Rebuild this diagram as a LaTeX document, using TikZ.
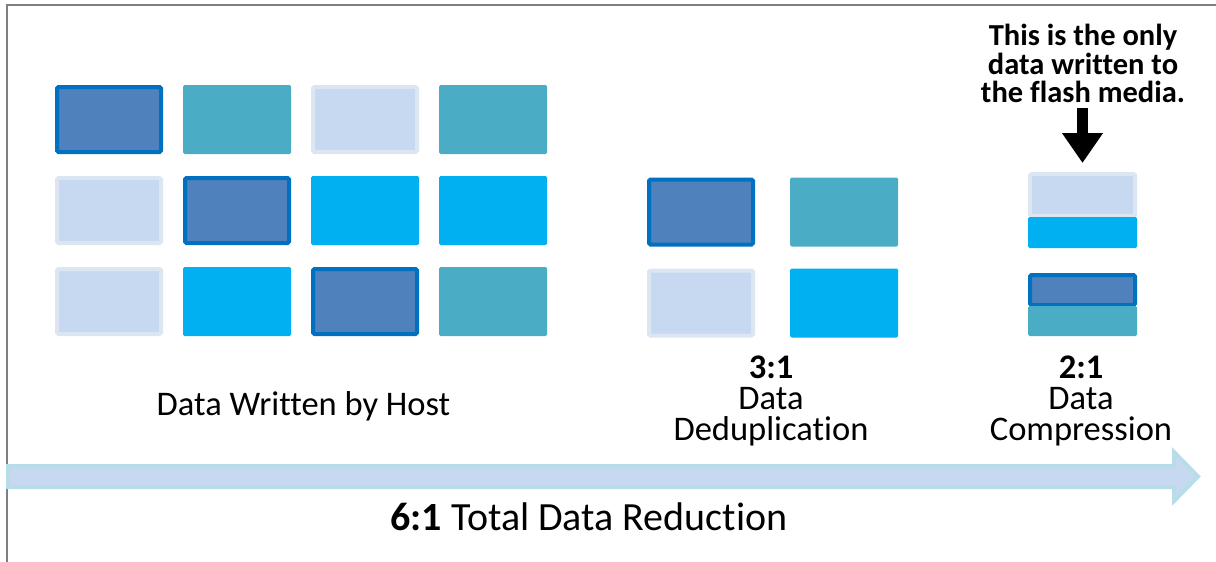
\documentclass[tikz,border=0pt]{standalone}
\usepackage{fontspec}
\setmainfont[Ligatures={NoCommon}]{Carlito}
\usetikzlibrary{arrows.meta}

\definecolor{frameGray}{HTML}{7F7F7F}
\definecolor{darkFill}{HTML}{4F81BD}
\definecolor{darkEdge}{HTML}{0070C0}
\definecolor{lightFill}{HTML}{C6D9F0}
\definecolor{lightEdge}{HTML}{DCE6F2}
\definecolor{tealFill}{HTML}{4BACC6}
\definecolor{cyanFill}{HTML}{00B0F0}
\definecolor{bandEdge}{HTML}{B7DDE8}

\tikzset{
  block/.style={rectangle, rounded corners=1.5pt, inner sep=0pt, outer sep=0pt,
    minimum width=108pt, minimum height=69pt},
  darkblock/.style={block, fill=darkFill, draw=darkEdge, line width=4pt,
    minimum width=104pt, minimum height=65pt},
  lightblock/.style={block, fill=lightFill, draw=lightEdge, line width=4pt,
    minimum width=104pt, minimum height=65pt},
  tealblock/.style={block, fill=tealFill},
  cyanblock/.style={block, fill=cyanFill},
  label/.style={inner sep=0pt, font=\fontsize{34.5}{31}\selectfont, align=center},
  note/.style={inner sep=0pt, font=\fontsize{30.5}{28.5}\selectfont\bfseries, align=center},
}

\begin{document}
\begin{tikzpicture}[x=1pt, y=-1pt]
\useasboundingbox (0,0) rectangle (1216,562);

% partial frame
\draw[frameGray, line width=2pt] (7,563) |- (1217,5);

% data written by host: 4 x 3 grid
\node[darkblock]  (h11) at (109,119.5) {};
\node[tealblock]  (h12) at (237,119.5) {};
\node[lightblock] (h13) at (365,119.5) {};
\node[tealblock]  (h14) at (493,119.5) {};
\node[lightblock] (h21) at (109,210.5) {};
\node[darkblock]  (h22) at (237,210.5) {};
\node[cyanblock]  (h23) at (365,210.5) {};
\node[cyanblock]  (h24) at (493,210.5) {};
\node[lightblock] (h31) at (109,301.5) {};
\node[cyanblock]  (h32) at (237,301.5) {};
\node[darkblock]  (h33) at (365,301.5) {};
\node[tealblock]  (h34) at (493,301.5) {};

% after deduplication
\node[darkblock]  (d11) at (701,212) {};
\node[tealblock]  (d12) at (844,212) {};
\node[lightblock] (d21) at (701,303) {};
\node[cyanblock]  (d22) at (844,303) {};

% after compression: two half-height pairs
\node[lightblock, minimum width=105pt, minimum height=42pt] (c1a) at (1082.5,195) {};
\node[cyanblock, minimum width=109pt, minimum height=31pt, anchor=north] (c1b) at (1082.5,217) {};
\node[darkblock, minimum width=105pt, minimum height=30pt] (c2a) at (1082.5,290) {};
\node[tealblock, minimum width=109pt, minimum height=30pt, anchor=north] (c2b) at (1082.5,306) {};

% labels
\node[label, anchor=base] (hostlbl) at (303.5,415) {Data Written by Host};
\node[label, anchor=north] (deduplbl) at (771,356) {\textbf{3:1}\\Data\\Deduplication};
\node[label, anchor=north] (complbl) at (1081,356) {\textbf{2:1}\\Data\\Compression};

% note and arrow
\node[note, anchor=north] (onlynote) at (1083,24) {This is the only\\data written to\\the flash media.};
\draw[line width=11pt, -{Triangle[width=39pt, length=30pt]}, shorten <=5pt, shorten >=11pt]
  (onlynote.south -| c1a.north) -- (c1a.north);

% total reduction band
\coordinate (bandstart) at (8,476.5);
\coordinate (bandtip) at (1198,476.5);
\draw[bandEdge, fill=lightFill, line width=4pt, line join=miter]
  (bandstart |- 0,466) -- (1174,466) -- (1174,452) -- (bandtip)
  -- (1174,501) -- (1174,487) -- (bandstart |- 0,487) -- cycle;
\node[inner sep=0pt, font=\fontsize{40}{40}\selectfont, anchor=base] (totallbl) at (589,530)
  {\textbf{6:1} Total Data Reduction};
\end{tikzpicture}
\end{document}
